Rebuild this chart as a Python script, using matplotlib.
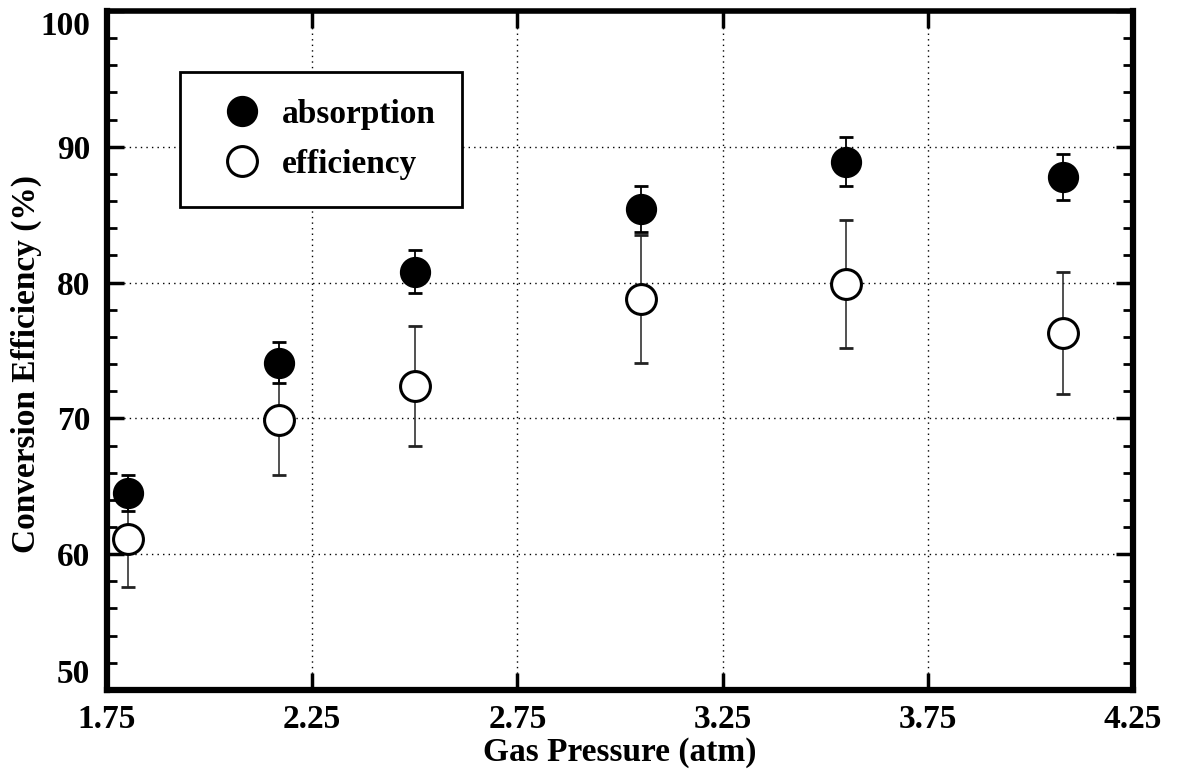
import matplotlib
matplotlib.use("Agg")
import matplotlib.pyplot as plt
from matplotlib.ticker import MultipleLocator, FixedLocator

plt.rcParams['font.family'] = ['Liberation Serif', 'DejaVu Serif']
plt.rcParams['font.weight'] = 'bold'

pressure = [1.80, 2.17, 2.50, 3.05, 3.55, 4.08]
absorption = [64.5, 74.1, 80.8, 85.4, 88.9, 87.8]
absorption_err = [1.3, 1.5, 1.6, 1.7, 1.8, 1.7]
efficiency = [61.1, 69.9, 72.4, 78.8, 79.9, 76.3]
efficiency_err = [3.5, 4.1, 4.4, 4.7, 4.7, 4.5]

x_ticks = [1.75, 2.25, 2.75, 3.25, 3.75, 4.25]
x_ticklabels = ["1.75", "2.25", "2.75", "3.25", "3.75", "4.25"]
y_ticks = [50, 60, 70, 80, 90, 100]
y_ticklabels = ["50", "60", "70", "80", "90", "100"]

fig = plt.figure(figsize=(11.8, 7.73), dpi=100)
ax = fig.add_axes([0.0907, 0.1074, 0.8695, 0.8784])

ax.set_xlim(1.75, 4.25)
ax.set_ylim(50, 100)

ax.grid(True, which='major', linestyle=(0, (1, 3)), color='black', linewidth=1.0)

ax.errorbar(pressure, efficiency, yerr=efficiency_err, fmt='none', ecolor='#222222',
            elinewidth=1.1, capsize=5, capthick=2, zorder=3)
ax.errorbar(pressure, absorption, yerr=absorption_err, fmt='none', ecolor='black',
            elinewidth=1.3, capsize=5, capthick=2, zorder=3)
ax.plot(pressure, efficiency, 'o', ms=21.5, mfc='white', mec='black', mew=2.2,
        linestyle='none', zorder=4, label='efficiency')
ax.plot(pressure, absorption, 'o', ms=21.5, mfc='black', mec='black', mew=1,
        linestyle='none', zorder=4, label='absorption')

ax.xaxis.set_major_locator(FixedLocator(x_ticks))
ax.set_xticklabels(x_ticklabels)
ax.yaxis.set_major_locator(FixedLocator(y_ticks))
ax.set_yticklabels(y_ticklabels)
ax.yaxis.set_minor_locator(MultipleLocator(2))

ax.tick_params(axis='both', which='major', direction='in', length=12, width=2.5,
               top=True, right=True, labelsize=24)
ax.tick_params(axis='x', which='major', pad=10)
ax.tick_params(axis='y', which='major', pad=12)
ax.tick_params(axis='y', which='minor', direction='in', length=7, width=2,
               left=True, right=True)
for lab in ax.get_xticklabels() + ax.get_yticklabels():
    lab.set_fontweight('bold')
ylabs = ax.get_yticklabels()
ylabs[0].set_va('bottom')
ylabs[-1].set_va('top')

for side in ['left', 'bottom', 'right']:
    ax.spines[side].set_linewidth(4.5)
ax.spines['top'].set_linewidth(4)

ax.set_xlabel('Gas Pressure (atm)', fontsize=24, fontweight='bold')
ax.xaxis.set_label_coords(0.5, -0.069)
ax.set_ylabel('Conversion Efficiency (%)', fontsize=24, fontweight='bold')
ax.yaxis.set_label_coords(-0.063, 0.48)

handles, labels = ax.get_legend_handles_labels()
leg = ax.legend(handles[::-1], labels[::-1], loc='upper left',
                bbox_to_anchor=(0.071, 0.91), frameon=True, fancybox=False,
                edgecolor='black', markerscale=1.0,
                handlelength=2.1, handletextpad=0.15, labelspacing=0.58,
                borderpad=0.8, borderaxespad=0.0,
                prop={'weight': 'bold', 'size': 24})
leg.get_frame().set_linewidth(2)
leg.get_frame().set_alpha(1)

fig.savefig('out.png', dpi=100)
